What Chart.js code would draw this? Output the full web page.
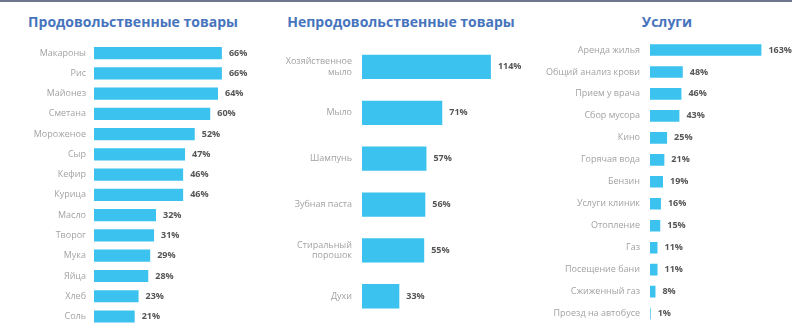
<!DOCTYPE html>
<html>
<head>
<meta charset="utf-8">
<script src="https://cdn.jsdelivr.net/npm/chart.js@4/dist/chart.umd.min.js"></script>
<style>
  html, body { margin: 0; padding: 0; background: #fff; width: 792px; height: 327px; overflow: hidden; position: relative; font-family: "Open Sans", sans-serif; }
  .topline { position: absolute; left: 0; top: 0; width: 792px; height: 2px; background: #6f7690; }
  .title { position: absolute; top: 12px; font-weight: bold; font-size: 14px; color: #4674bd; white-space: nowrap; transform: translateX(-50%); }
  .box { position: absolute; top: 0; height: 340px; }
</style>
</head>
<body>
<div class="topline"></div>
<div class="title" style="left:133px">Продовольственные товары</div>
<div class="title" style="left:401px">Непродовольственные товары</div>
<div class="title" style="left:667px">Услуги</div>
<div class="box" style="left:0px;width:270px"><canvas id="c1"></canvas></div>
<div class="box" style="left:270px;width:270px"><canvas id="c2"></canvas></div>
<div class="box" style="left:540px;width:252px"><canvas id="c3"></canvas></div>
<script>
// ---- data ----
const foodLabels = ['Макароны','Рис','Майонез','Сметана','Мороженое','Сыр','Кефир','Курица','Масло','Творог','Мука','Яйца','Хлеб','Соль'];
const foodValues = [66, 66, 64, 60, 52, 47, 46, 46, 32, 31, 29, 28, 23, 21];

const nonFoodLabels = [['Хозяйственное','мыло'],'Мыло','Шампунь','Зубная паста',['Стиральный','порошок'],'Духи'];
const nonFoodValues = [114, 71, 57, 56, 55, 33];

const serviceLabels = ['Аренда жилья','Общий анализ крови','Прием у врача','Сбор мусора','Кино','Горячая вода','Бензин','Услуги клиник','Отопление','Газ','Посещение бани','Сжиженный газ','Проезд на автобусе'];
const serviceValues = [163, 48, 46, 43, 25, 21, 19, 16, 15, 11, 11, 8, 1];

const barColor = '#3bc2ef';

const valueLabelPlugin = {
  id: 'valueLabels',
  afterDatasetsDraw(chart) {
    const ctx = chart.ctx;
    const meta = chart.getDatasetMeta(0);
    const ds = chart.data.datasets[0];
    ctx.save();
    ctx.font = 'bold 9px "Open Sans", sans-serif';
    ctx.fillStyle = '#555';
    ctx.textAlign = 'left';
    ctx.textBaseline = 'middle';
    meta.data.forEach((el, i) => {
      ctx.fillText(ds.data[i] + '%', el.x + 7, el.y);
    });
    ctx.restore();
  }
};

function makeChart(id, labels, values, opts) {
  return new Chart(document.getElementById(id), {
    type: 'bar',
    data: {
      labels: labels,
      datasets: [{
        data: values,
        backgroundColor: barColor,
        borderWidth: 0,
        barPercentage: opts.barPct,
        categoryPercentage: 1
      }]
    },
    options: {
      indexAxis: 'y',
      responsive: true,
      maintainAspectRatio: false,
      animation: false,
      layout: { padding: { top: opts.top, bottom: opts.bottom, left: 0, right: opts.right } },
      plugins: { legend: { display: false }, tooltip: { enabled: false }, title: { display: false } },
      scales: {
        x: { display: false, min: 0, max: opts.max },
        y: {
          grid: { display: false, drawTicks: false },
          border: { display: false },
          ticks: { color: '#a3a3a3', font: { family: 'Open Sans', size: 9 }, padding: opts.tickPad, autoSkip: false },
          afterFit(scale) { scale.width = opts.yWidth; }
        }
      }
    },
    plugins: [valueLabelPlugin]
  });
}

makeChart('c1', foodLabels, foodValues, { top: 43, bottom: 10, right: 21, max: 80, yWidth: 94, tickPad: 8, barPct: 0.6 });
makeChart('c2', nonFoodLabels, nonFoodValues, { top: 44, bottom: 12, right: 31, max: 130, yWidth: 92, tickPad: 10, barPct: 0.53 });
makeChart('c3', serviceLabels, serviceValues, { top: 39, bottom: 9, right: 19, max: 180, yWidth: 110, tickPad: 10, barPct: 0.53 });
</script>
</body>
</html>
